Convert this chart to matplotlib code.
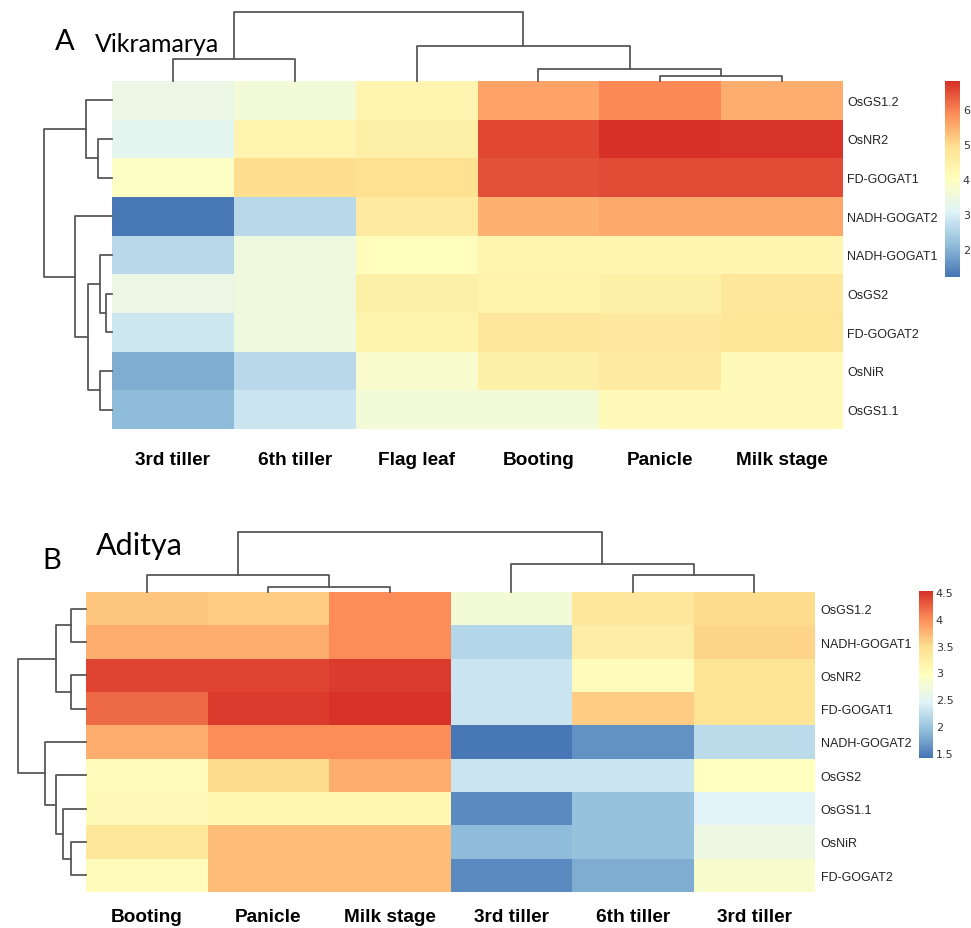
import numpy as np
import matplotlib
matplotlib.use('Agg')
import matplotlib.pyplot as plt
from matplotlib.colors import LinearSegmentedColormap
from matplotlib.ticker import FuncFormatter

# ---- panel A : Vikramarya ----
genes_a = ['OsGS1.2', 'OsNR2', 'FD-GOGAT1', 'NADH-GOGAT2', 'NADH-GOGAT1',
           'OsGS2', 'FD-GOGAT2', 'OsNiR', 'OsGS1.1']
stages_a = ['3rd tiller', '6th tiller', 'Flag leaf', 'Booting', 'Panicle', 'Milk stage']
vals_a = [
    [3.4, 3.6, 4.3, 5.6, 5.9, 5.5],
    [3.2, 4.3, 4.5, 6.55, 6.8, 6.75],
    [3.9, 4.95, 4.9, 6.45, 6.5, 6.5],
    [1.25, 2.6, 4.6, 5.45, 5.55, 5.55],
    [2.6, 3.5, 4.05, 4.3, 4.3, 4.3],
    [3.4, 3.5, 4.5, 4.4, 4.45, 4.7],
    [2.85, 3.5, 4.35, 4.7, 4.65, 4.75],
    [1.9, 2.6, 3.8, 4.45, 4.6, 4.15],
    [2.1, 2.8, 3.6, 3.6, 4.15, 4.15],
]
# merges (left, right, height); new clusters numbered after the leaves
row_links_a = [(1, 2, 14), (0, 9, 26), (5, 6, 6), (4, 11, 12), (7, 8, 12),
               (12, 13, 24), (3, 14, 37), (10, 15, 68)]
col_links_a = [(4, 5, 5), (3, 6, 12), (0, 1, 22), (2, 7, 35), (8, 9, 69)]
ticks_a = [2, 3, 4, 5, 6]

# ---- panel B : Aditya ----
genes_b = ['OsGS1.2', 'NADH-GOGAT1', 'OsNR2', 'FD-GOGAT1', 'NADH-GOGAT2',
           'OsGS2', 'OsGS1.1', 'OsNiR', 'FD-GOGAT2']
stages_b = ['Booting', 'Panicle', 'Milk stage', '3rd tiller', '6th tiller', '3rd tiller']
vals_b = [
    [3.65, 3.6, 4.0, 2.75, 3.35, 3.5],
    [3.8, 3.8, 4.0, 2.15, 3.25, 3.55],
    [4.4, 4.4, 4.45, 2.3, 3.0, 3.4],
    [4.2, 4.45, 4.5, 2.3, 3.6, 3.4],
    [3.8, 4.0, 4.0, 1.42, 1.6, 2.2],
    [3.0, 3.5, 3.8, 2.3, 2.3, 2.95],
    [3.05, 3.1, 3.1, 1.55, 1.95, 2.45],
    [3.35, 3.7, 3.7, 1.9, 1.95, 2.65],
    [3.0, 3.7, 3.7, 1.55, 1.8, 2.85],
]
row_links_b = [(0, 1, 15), (2, 3, 15), (9, 10, 30), (7, 8, 15), (6, 12, 23),
               (5, 13, 30), (4, 14, 41), (11, 15, 68)]
col_links_b = [(1, 2, 5), (0, 6, 17), (4, 5, 17), (3, 8, 28), (7, 9, 60)]
ticks_b = [1.5, 2, 2.5, 3, 3.5, 4, 4.5]

cmap = LinearSegmentedColormap.from_list(
    'pheat', ['#4575B4', '#91BFDB', '#E0F3F8', '#FFFFBF', '#FEE090', '#FC8D59', '#D73027'])

W, H = 971, 929
fig = plt.figure(figsize=(W / 100, H / 100), dpi=100)


def box(l, t, r, b):
    # pixel box -> figure fraction
    return [l / W, 1 - b / H, (r - l) / W, (b - t) / H]


def dendro(ax, links, n, side):
    pos = list(np.arange(n) + 0.5)
    hgt = [0.0] * n
    for a, b, h in links:
        p = [pos[a], pos[a], pos[b], pos[b]]
        d = [hgt[a], h, h, hgt[b]]
        if side == 'top':
            ax.plot(p, d, color='#585858', lw=1.3, clip_on=False)
        else:
            ax.plot(d, p, color='#585858', lw=1.3, clip_on=False)
        pos.append((pos[a] + pos[b]) / 2)
        hgt.append(h)
    ax.axis('off')


def panel(hm, vals, genes, stages, row_links, col_links, vmin, vmax,
          cb, ticks, xpad, ypad, top):
    l, t, r, b = hm
    nr, nc = len(genes), len(stages)
    ax = fig.add_axes(box(l, t, r, b))
    mesh = ax.pcolormesh(np.array(vals), cmap=cmap, vmin=vmin, vmax=vmax)
    ax.set_xlim(0, nc)
    ax.set_ylim(nr, 0)
    ax.set_xticks(np.arange(nc) + 0.5)
    ax.set_xticklabels(stages, fontsize=13.7, fontweight='bold', family='Liberation Sans')
    ax.set_yticks(np.arange(nr) + 0.5)
    ax.set_yticklabels(genes, fontsize=9, family='Liberation Sans', color='#222222')
    ax.yaxis.tick_right()
    ax.tick_params(axis='x', length=0, pad=xpad)
    ax.tick_params(axis='y', length=0, pad=ypad)
    for s in ax.spines.values():
        s.set_visible(False)

    axc = fig.add_axes(box(l, t - top, r, t))
    axc.set_xlim(0, nc)
    axc.set_ylim(0, top)
    dendro(axc, col_links, nc, 'top')

    axr = fig.add_axes(box(l - 72, t, l, b))
    axr.set_xlim(72, 0)
    axr.set_ylim(nr, 0)
    dendro(axr, row_links, nr, 'left')

    cax = fig.add_axes(box(*cb))
    cbar = fig.colorbar(mesh, cax=cax, ticks=ticks)
    cbar.outline.set_visible(False)
    cbar.ax.tick_params(length=0, labelsize=8, pad=2, labelcolor='#333333')
    cbar.ax.yaxis.set_major_formatter(FuncFormatter(lambda v, p: '%g' % v))


panel((112, 82, 843, 430), vals_a, genes_a, stages_a, row_links_a, col_links_a,
      1.2, 6.8, (945, 82, 960, 278), ticks_a, 16, 3, 72)
panel((86, 593, 815, 893), vals_b, genes_b, stages_b, row_links_b, col_links_b,
      1.4, 4.52, (919, 592, 933, 759), ticks_b, 11.5, 4, 63)

fig.text(55 / W, 1 - 50 / H, 'A', fontsize=21, family='Lato', va='baseline')
fig.text(95 / W, 1 - 52 / H, 'Vikramarya', fontsize=18, family='Lato', va='baseline')
fig.text(42 / W, 1 - 569 / H, 'B', fontsize=21, family='Lato', va='baseline')
fig.text(96 / W, 1 - 555 / H, 'Aditya', fontsize=22, family='Lato', va='baseline')

fig.savefig('out.png', dpi=100, facecolor='white')
